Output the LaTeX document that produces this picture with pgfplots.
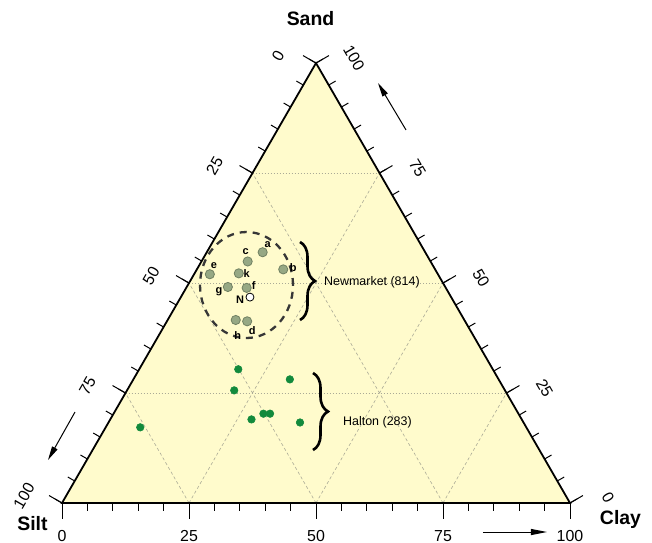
\documentclass[border=0pt]{standalone}
\usepackage{pgfplots}
\usepackage{pgfplotstable}
\pgfplotsset{compat=1.18}
\usetikzlibrary{arrows.meta,decorations.pathreplacing}
\usepackage{fontspec}
\setmainfont{Liberation Sans}

\definecolor{triyellow}{RGB}{255,251,204}
\definecolor{nmfill}{RGB}{150,168,132}
\definecolor{nmedge}{RGB}{112,128,98}
\definecolor{hgreen}{RGB}{18,138,60}
\definecolor{gridc}{RGB}{170,170,150}
\definecolor{ellc}{RGB}{55,55,55}

% sand silt clay (percent)
\pgfplotstableread{
sand silt clay lab dx dy
57.0 32.0 11.0 a 5 8
54.9 36.0 9.1 c -2 10
53.1 29.9 17.0 b 10 2
52.0 44.9 3.1 e 4 9
52.2 39.1 8.7 k 8 0
49.1 42.8 8.1 g -9 -5
48.9 39.2 11.9 f 7 2
41.6 45.0 13.4 h 2 -16
41.3 42.9 15.8 d 5 -9
}\newmarket

\pgfplotstableread{
sand silt clay lab dx dy
46.8 39.6 13.6 N -10 -3
}\nsample

\pgfplotstableread{
sand silt clay
30.4 50.1 19.5
28.1 41.1 30.8
25.6 53.3 21.1
20.3 50.2 29.5
20.3 48.9 30.8
19.0 53.2 27.8
18.3 44.0 37.7
17.2 76.1 6.8
}\halton

\newcommand{\ticksize}{\fontsize{16}{18}\selectfont}
\newcommand{\vertexfont}{\fontsize{19.5}{22}\selectfont\bfseries}

\begin{document}
\begin{tikzpicture}
\begin{axis}[
  scale only axis, width=652bp, height=543bp,
  xmin=-12.205, xmax=116.142, ymin=-7.874, ymax=99.016,
  hide axis, clip=false,
]
\path (rel axis cs:0,0) rectangle (rel axis cs:1,1);
% triangle background
\fill[triyellow] (axis cs:0,0) -- (axis cs:100,0) -- (axis cs:50,86.60254) -- cycle;
% grid
\draw[gridc, line width=0.6bp, dash pattern=on 1bp off 2bp]
  (axis cs:12.5,21.65) -- (axis cs:87.5,21.65)
  (axis cs:25,43.30) -- (axis cs:75,43.30)
  (axis cs:37.5,64.95) -- (axis cs:62.5,64.95);
\draw[gridc, line width=0.6bp, dash pattern=on 3bp off 2.5bp]
  (axis cs:25,0) -- (axis cs:62.5,64.95)
  (axis cs:50,0) -- (axis cs:75,43.30)
  (axis cs:75,0) -- (axis cs:87.5,21.65)
  (axis cs:75,0) -- (axis cs:37.5,64.95)
  (axis cs:50,0) -- (axis cs:25,43.30)
  (axis cs:25,0) -- (axis cs:12.5,21.65);
% frame
\draw[black, line width=1.8bp, line join=miter] (axis cs:0,0) -- (axis cs:100,0) -- (axis cs:50,86.60254) -- cycle;
% minor ticks
\pgfplotsinvokeforeach{0,5,...,100}{
  \draw[line width=1bp] (axis cs:#1,0) -- ++(270:8bp);
  \draw[line width=1bp] (axis cs:{(100-#1)/2},{0.8660254*(100-#1)}) -- ++(150:8bp);
  \draw[line width=1bp] (axis cs:{100-#1/2},{0.8660254*#1}) -- ++(30:8bp);
}
% major ticks and labels
\pgfplotsinvokeforeach{0,25,50,75,100}{
  \draw[line width=1bp] (axis cs:#1,0) -- ++(270:16bp);
  \draw[line width=1bp] (axis cs:{(100-#1)/2},{0.8660254*(100-#1)}) -- ++(150:15bp);
  \draw[line width=1bp] (axis cs:{100-#1/2},{0.8660254*#1}) -- ++(30:15bp);
  \node[anchor=base, font=\ticksize, inner sep=0pt] at (axis cs:#1,0) [yshift=-38bp] {#1};
  \path (axis cs:{(100-#1)/2},{0.8660254*(100-#1)}) ++(-38bp,7bp) node[rotate=60, font=\ticksize, inner sep=0pt] {#1};
  \path (axis cs:{100-#1/2},{0.8660254*#1}) ++(38bp,5bp) node[rotate=-60, font=\ticksize, inner sep=0pt] {#1};
}
% vertex labels
\node[anchor=base, font=\vertexfont, inner sep=0pt] at (axis cs:48.92,94.09) {Sand};
\node[anchor=base, font=\vertexfont, inner sep=0pt] at (axis cs:-5.81,-5.45) {Silt};
\node[anchor=base, font=\vertexfont, inner sep=0pt] at (axis cs:109.94,-4.19) {Clay};
% direction arrows
\draw[line width=1bp, -{Triangle[length=14bp,width=6bp]}] (axis cs:2.56,17.91) -- (axis cs:-2.76,8.46);
\draw[line width=1bp, -{Triangle[length=14bp,width=6bp]}] (axis cs:67.72,73.43) -- (axis cs:62.20,82.68);
\draw[line width=1bp, -{Triangle[length=16bp,width=6bp]}] (axis cs:82.87,-5.71) -- (axis cs:95.47,-5.71);
% dashed ellipse round Newmarket
\draw[ellc, line width=2.3bp, dash pattern=on 7bp off 6bp] (axis cs:36.32,42.91) ellipse [x radius=46.5bp, y radius=53bp];
% braces
\draw[line width=2.6bp, decorate, decoration={brace, amplitude=15bp}] (axis cs:46.85,51.38) -- (axis cs:46.85,36.02);
\draw[line width=2.6bp, decorate, decoration={brace, amplitude=15bp}] (axis cs:49.41,25.59) -- (axis cs:49.41,10.43);
\node[anchor=west, font=\fontsize{12.5}{14}\selectfont, inner sep=0pt] at (axis cs:51.57,43.50) {Newmarket (814)};
\node[anchor=west, font=\fontsize{12.5}{14}\selectfont, inner sep=0pt] at (axis cs:55.31,15.94) {Halton (283)};
% data
\addplot[only marks, mark=*, mark size=4.6bp,
  mark options={fill=nmfill, draw=nmedge, line width=0.8bp},
  nodes near coords, point meta=explicit symbolic,
  visualization depends on={\thisrow{dx}\as\dx},
  visualization depends on={\thisrow{dy}\as\dy},
  every node near coord/.style={anchor=center, xshift=\dx bp, yshift=\dy bp, inner sep=0pt,
    font=\fontsize{11}{13}\selectfont\bfseries, text=black}]
  table[x expr={\thisrow{clay}+0.5*\thisrow{sand}}, y expr={0.8660254*\thisrow{sand}}, meta=lab] {\newmarket};
\addplot[only marks, mark=*, mark size=4bp,
  mark options={fill=white, draw=black, line width=0.8bp},
  nodes near coords, point meta=explicit symbolic,
  visualization depends on={\thisrow{dx}\as\dx},
  visualization depends on={\thisrow{dy}\as\dy},
  every node near coord/.style={anchor=center, xshift=\dx bp, yshift=\dy bp, inner sep=0pt,
    font=\fontsize{11}{13}\selectfont\bfseries, text=black}]
  table[x expr={\thisrow{clay}+0.5*\thisrow{sand}}, y expr={0.8660254*\thisrow{sand}}, meta=lab] {\nsample};
\addplot[only marks, mark=*, mark size=3.8bp,
  mark options={fill=hgreen, draw=hgreen, line width=0.5bp}]
  table[x expr={\thisrow{clay}+0.5*\thisrow{sand}}, y expr={0.8660254*\thisrow{sand}}] {\halton};
\end{axis}
\end{tikzpicture}
\end{document}
